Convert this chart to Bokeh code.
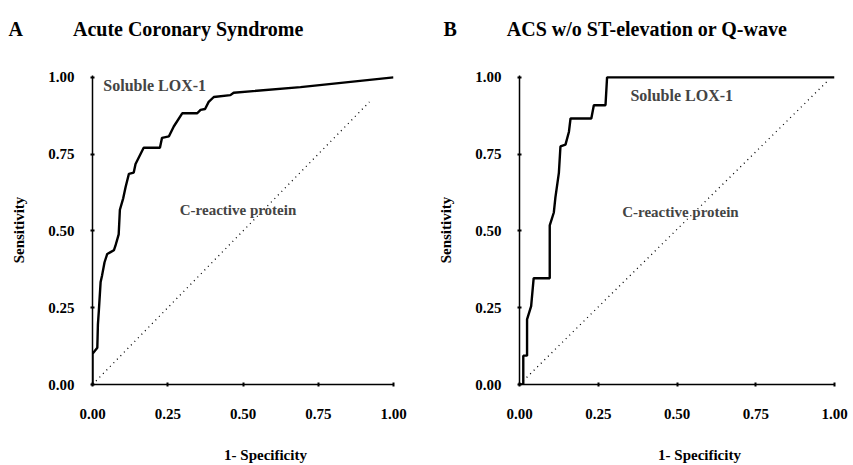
from bokeh.plotting import figure
from bokeh.layouts import row
from bokeh.models import Range1d, FixedTicker, NumeralTickFormatter, Label, Title
from bokeh.embed import file_html
from bokeh.resources import INLINE

# ---- data ----
a_fpr = [0.0, 0.0, 0.016, 0.018, 0.021, 0.027, 0.032, 0.040, 0.049, 0.060, 0.071, 0.076,
         0.087, 0.091, 0.102, 0.110, 0.121, 0.137, 0.143, 0.170, 0.224, 0.231, 0.254,
         0.270, 0.298, 0.348, 0.359, 0.374, 0.386, 0.403, 0.458, 0.469, 0.691, 1.0]
a_tpr = [0.0, 0.100, 0.120, 0.196, 0.239, 0.334, 0.356, 0.398, 0.425, 0.431, 0.437, 0.451,
         0.489, 0.569, 0.606, 0.643, 0.686, 0.690, 0.718, 0.771, 0.771, 0.803, 0.808,
         0.840, 0.883, 0.883, 0.894, 0.897, 0.920, 0.936, 0.942, 0.950, 0.968, 1.0]
a_crp_fpr = [0.0, 0.92]
a_crp_tpr = [0.0, 0.92]

b_fpr = [0.0, 0.012, 0.012, 0.024, 0.024, 0.037, 0.045, 0.096, 0.096, 0.109, 0.114,
         0.125, 0.130, 0.146, 0.157, 0.162, 0.228, 0.236, 0.273, 0.278, 1.0]
b_tpr = [0.0, 0.0, 0.094, 0.094, 0.212, 0.255, 0.346, 0.346, 0.518, 0.560, 0.609,
         0.689, 0.775, 0.781, 0.823, 0.866, 0.866, 0.909, 0.909, 1.0, 1.0]
b_crp_fpr = [0.0, 0.98]
b_crp_tpr = [0.0, 0.99]

ticks = [0.0, 0.25, 0.5, 0.75, 1.0]

FONT = "Liberation Serif"
NB = "\u00a0"


def panel(width, left, right, bottom, letter, title, fpr, tpr, cfpr, ctpr,
          lox_xy, crp_xy, title_offset):
    p = figure(width=width, height=465, output_backend="svg", toolbar_location=None,
               x_range=Range1d(0, 1), y_range=Range1d(0, 1.006),
               min_border_left=left, min_border_right=right,
               min_border_top=75, min_border_bottom=bottom)
    p.title = Title(text=letter + NB * 10 + title + "\n" + NB, align="left",
                    offset=title_offset, standoff=27,
                    text_font=FONT, text_font_size="20px", text_font_style="bold",
                    text_color="black")
    p.outline_line_color = None
    p.grid.visible = False
    p.background_fill_color = "white"
    p.border_fill_color = "white"
    for ax in (p.xaxis[0], p.yaxis[0]):
        ax.ticker = FixedTicker(ticks=ticks)
        ax.formatter = NumeralTickFormatter(format="0.00")
        ax.minor_tick_line_color = None
        ax.major_tick_in = 2
        ax.major_tick_out = 2
        ax.axis_line_width = 1.5
        ax.axis_line_color = "black"
        ax.major_tick_line_color = "black"
        ax.major_tick_line_width = 2
        ax.major_label_text_font = FONT
        ax.major_label_text_font_size = "15px"
        ax.major_label_text_font_style = "bold"
        ax.major_label_text_color = "black"
        ax.axis_label_text_font = FONT
        ax.axis_label_text_font_size = "15px"
        ax.axis_label_text_font_style = "bold"
        ax.axis_label_text_color = "black"
    p.yaxis.major_label_standoff = 16
    p.xaxis.major_label_standoff = 22
    p.yaxis.axis_label = "Sensitivity"
    p.yaxis.axis_label_standoff = 18
    p.xaxis.axis_label = NB * 12 + "1- Specificity"
    p.xaxis.axis_label_standoff = 25

    p.line(fpr, tpr, line_color="black", line_width=2.4)
    p.line(cfpr, ctpr, line_color="black", line_width=1.3, line_dash="1 4")

    p.add_layout(Label(x=lox_xy[0], y=lox_xy[1], text="Soluble LOX-1", text_font=FONT,
                       text_font_size="16px", text_font_style="bold",
                       text_baseline="middle"))
    p.add_layout(Label(x=crp_xy[0], y=crp_xy[1], text="C-reactive protein", text_font=FONT,
                       text_font_size="15px", text_font_style="bold",
                       text_baseline="middle"))
    return p


pa = panel(430, 92, 37, 77, "A", "Acute Coronary Syndrome", a_fpr, a_tpr,
           a_crp_fpr, a_crp_tpr, (0.036, 0.974), (0.29, 0.569), -84)
pb = panel(423, 89, 19, 79, "B", "ACS w/o ST-elevation or Q-wave", b_fpr, b_tpr,
           b_crp_fpr, b_crp_tpr, (0.352, 0.941), (0.326, 0.560), -76)

layout = row(pa, pb)
open("out.html", "w").write(file_html(layout, INLINE))
